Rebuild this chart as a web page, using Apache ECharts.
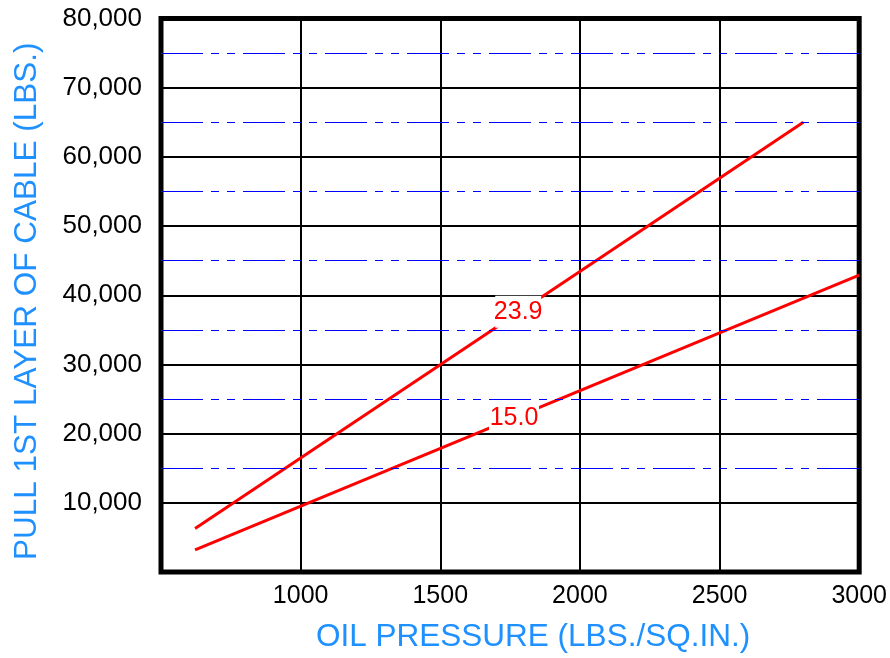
<!DOCTYPE html>
<html><head><meta charset="utf-8">
<script src="https://cdn.jsdelivr.net/npm/echarts@6/dist/echarts.min.js"></script>
<style>html,body{margin:0;padding:0;background:#fff}#c{width:890px;height:658px}</style>
</head><body><div id="c"></div>
<script>
// Data
const xTicks = [500, 1000, 1500, 2000, 2500, 3000];
const curve239 = [[622, 6300], [2800, 65000]];
const curve150 = [[622, 3200], [3000, 42900]];
const curveNames = ['23.9', '15.0'];
const labelAt239 = [1779, 37600];
const labelAt150 = [1764, 22300];
const dashDotLevels = [15000, 25000, 35000, 45000, 55000, 65000, 75000];

const chart = echarts.init(document.getElementById('c'));
const FONT = 'Liberation Sans, Arial, sans-serif';
const nameFont = {fontFamily: FONT, fontSize: 31.5, color: '#1E90FF'};
chart.setOption({
  animation: false,
  grid: {left: 161, right: 30.5, top: 18.5, bottom: 84, show: true, borderColor: '#000', borderWidth: 5, backgroundColor: 'transparent'},
  xAxis: {
    type: 'value', min: xTicks[0], max: xTicks[xTicks.length - 1], interval: 500,
    name: 'OIL PRESSURE (LBS./SQ.IN.)', nameLocation: 'middle', nameGap: 49,
    nameTextStyle: Object.assign({padding: [0, 0, 0, 46]}, nameFont),
    axisLine: {show: false}, axisTick: {show: false},
    axisLabel: {margin: 12, showMinLabel: false, showMaxLabel: true,
      fontFamily: FONT, fontSize: 25, color: '#000', formatter: v => String(v)},
    splitLine: {show: true, lineStyle: {color: '#000', width: 2}}
  },
  yAxis: {
    type: 'value', min: 0, max: 80000, interval: 10000,
    name: 'PULL 1ST LAYER OF CABLE (LBS.)', nameLocation: 'middle', nameGap: 118,
    nameTextStyle: Object.assign({padding: [0, 12, 0, 0]}, nameFont),
    axisLine: {show: false}, axisTick: {show: false},
    axisLabel: {margin: 19, showMinLabel: false, showMaxLabel: true,
      fontFamily: FONT, fontSize: 26, color: '#000',
      formatter: v => v.toLocaleString('en-US')},
    splitLine: {show: true, lineStyle: {color: '#000', width: 2}}
  },
  series: [
    {
      type: 'line', data: curve239, showSymbol: false, z: 3,
      lineStyle: {color: '#FF0000', width: 3},
      markLine: {
        silent: true, symbol: 'none', label: {show: false},
        lineStyle: {color: '#0000FF', width: 1.2, type: [42, 8, 8, 8, 8, 8]},
        data: dashDotLevels.map(v => ({yAxis: v}))
      },
      markPoint: {
        symbol: 'rect', symbolSize: [46, 32], silent: true,
        itemStyle: {color: '#fff'},
        label: {show: true, position: 'inside', color: '#FF0000', fontSize: 25, fontFamily: FONT, formatter: curveNames[0]},
        data: [{coord: labelAt239}]
      }
    },
    {
      type: 'line', data: curve150, showSymbol: false, z: 3,
      lineStyle: {color: '#FF0000', width: 3},
      markPoint: {
        symbol: 'rect', symbolSize: [50, 28], silent: true,
        itemStyle: {color: '#fff'},
        label: {show: true, position: 'inside', color: '#FF0000', fontSize: 25, fontFamily: FONT, formatter: curveNames[1]},
        data: [{coord: labelAt150}]
      }
    }
  ]
});
</script>
</body></html>
